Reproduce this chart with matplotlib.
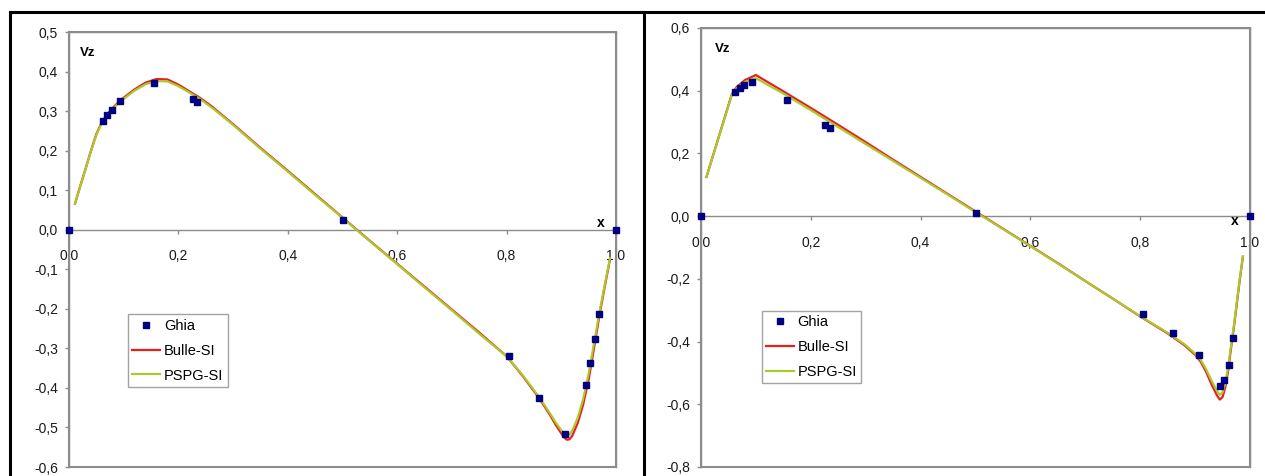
import matplotlib.pyplot as plt
from matplotlib.lines import Line2D
from matplotlib.patches import Rectangle
from matplotlib.ticker import FuncFormatter, MultipleLocator

plt.rcParams["font.family"] = ["Liberation Sans", "DejaVu Sans"]

# Ghia et al. reference points, vertical velocity on the horizontal centreline
ghia_x = [0.0, 0.0625, 0.0703, 0.0781, 0.0938, 0.1563, 0.2266, 0.2344, 0.5,
          0.8047, 0.8594, 0.9063, 0.9453, 0.9531, 0.9609, 0.9688, 1.0]
ghia_left = [0.0, 0.27485, 0.29012, 0.30353, 0.32627, 0.37095, 0.33075, 0.32235,
             0.02526, -0.31966, -0.42665, -0.51550, -0.39188, -0.33714,
             -0.27669, -0.21388, 0.0]
ghia_right = [0.0, 0.39560, 0.40917, 0.41906, 0.42768, 0.37119, 0.29030, 0.28066,
              0.00999, -0.31184, -0.37401, -0.44307, -0.54053, -0.52357,
              -0.47425, -0.39017, 0.0]

# computed profiles, left case
left_x = [0.011, 0.02, 0.03, 0.04, 0.05, 0.06, 0.07, 0.08, 0.09, 0.10, 0.12,
          0.14, 0.16, 0.18, 0.20, 0.22, 0.24, 0.26, 0.28, 0.30, 0.35, 0.40,
          0.45, 0.50, 0.55, 0.60, 0.65, 0.70, 0.75, 0.80, 0.83, 0.86, 0.88,
          0.89, 0.90, 0.905, 0.91, 0.915, 0.92, 0.93, 0.94, 0.95, 0.96, 0.97,
          0.98, 0.989]
left_bulle = [0.066, 0.108, 0.153, 0.199, 0.242, 0.272, 0.292, 0.308, 0.322,
              0.334, 0.355, 0.372, 0.381, 0.380, 0.367, 0.350, 0.333, 0.313,
              0.290, 0.267, 0.207, 0.149, 0.090, 0.031, -0.028, -0.086, -0.144,
              -0.202, -0.260, -0.320, -0.371, -0.427, -0.470, -0.494, -0.515,
              -0.525, -0.531, -0.530, -0.521, -0.489, -0.442, -0.379, -0.298,
              -0.214, -0.140, -0.075]
left_pspg = [0.066, 0.107, 0.152, 0.198, 0.240, 0.270, 0.290, 0.305, 0.319,
             0.331, 0.352, 0.368, 0.376, 0.375, 0.363, 0.347, 0.330, 0.310,
             0.288, 0.265, 0.205, 0.147, 0.088, 0.030, -0.029, -0.087, -0.146,
             -0.204, -0.263, -0.320, -0.369, -0.424, -0.466, -0.488, -0.507,
             -0.516, -0.521, -0.518, -0.508, -0.476, -0.428, -0.364, -0.286,
             -0.207, -0.135, -0.072]

# computed profiles, right case
right_x = [0.010, 0.056, 0.065, 0.08, 0.10, 0.15, 0.20, 0.25, 0.30, 0.35,
           0.40, 0.45, 0.50, 0.55, 0.60, 0.65, 0.70, 0.75, 0.80, 0.85, 0.88,
           0.90, 0.91, 0.92, 0.93, 0.94, 0.945, 0.95, 0.955, 0.96, 0.965,
           0.97, 0.975, 0.98, 0.987]
right_bulle = [0.125, 0.388, 0.412, 0.434, 0.450, 0.398, 0.345, 0.291, 0.236,
               0.180, 0.125, 0.070, 0.015, -0.040, -0.095, -0.150, -0.207,
               -0.263, -0.320, -0.374, -0.411, -0.442, -0.464, -0.496, -0.537,
               -0.572, -0.585, -0.577, -0.546, -0.495, -0.427, -0.364, -0.293,
               -0.222, -0.130]
right_pspg = [0.125, 0.386, 0.408, 0.428, 0.440, 0.391, 0.338, 0.284, 0.230,
              0.176, 0.122, 0.068, 0.013, -0.041, -0.096, -0.151, -0.207,
              -0.263, -0.319, -0.372, -0.408, -0.438, -0.458, -0.488, -0.525,
              -0.558, -0.570, -0.562, -0.532, -0.483, -0.418, -0.357, -0.287,
              -0.218, -0.128]

GRID_GREY = "#8c8c8c"
NAVY = "#000080"
RED = "#e8201c"
YGREEN = "#a9c92e"


def comma(v, pos):
    return f"{v:.1f}".replace(".", ",")


def draw_panel(ax, ghia, x, bulle, pspg, ylim, ystep, leg_anchor, vz_pos, x_lab):
    ax.plot(x, bulle, color=RED, lw=1.6, label="Bulle-SI", zorder=3)
    ax.plot(x, pspg, color=YGREEN, lw=1.6, label="PSPG-SI", zorder=4)
    ax.plot(ghia_x, ghia, ls="none", marker="s", ms=5, color=NAVY,
            label="Ghia", zorder=5, clip_on=False)

    ax.set_xlim(0, 1)
    ax.set_ylim(*ylim)
    ax.xaxis.set_major_locator(MultipleLocator(0.2))
    ax.yaxis.set_major_locator(MultipleLocator(ystep))
    ax.xaxis.set_major_formatter(FuncFormatter(comma))
    ax.yaxis.set_major_formatter(FuncFormatter(comma))

    # x axis runs through zero, plot area keeps a grey border
    ax.spines["bottom"].set_position(("data", 0))
    for s in ax.spines.values():
        s.set_color(GRID_GREY)
        s.set_linewidth(1.0)
    ax.add_patch(Rectangle((0, 0), 1, 1, transform=ax.transAxes, fill=False,
                           edgecolor=GRID_GREY, lw=1.5, zorder=2, clip_on=False))
    ax.tick_params(axis="x", direction="out", length=3, pad=11, width=1,
                   color=GRID_GREY, labelsize=10, labelcolor="#1a1a1a")
    ax.tick_params(axis="y", direction="out", length=3, pad=5, width=1,
                   color=GRID_GREY, labelsize=10, labelcolor="#1a1a1a")

    ax.text(*vz_pos, "Vz", transform=ax.transAxes, fontsize=9.5,
            fontweight="bold", va="center")
    ax.text(*x_lab, "x", transform=ax.transData, fontsize=10,
            fontweight="bold", ha="center", va="center")

    handles, labels = ax.get_legend_handles_labels()
    order = [2, 0, 1]
    leg = ax.legend([handles[i] for i in order], [labels[i] for i in order],
                    loc="lower left", bbox_to_anchor=leg_anchor, fontsize=10.5,
                    frameon=True, fancybox=False, edgecolor=GRID_GREY,
                    handlelength=1.9, handletextpad=0.25, labelspacing=0.75,
                    borderpad=0.3, borderaxespad=0)
    leg.get_frame().set_linewidth(1.0)


fig = plt.figure(figsize=(12.65, 4.76), dpi=100)
ax_l = fig.add_axes([69 / 1265, 9 / 476, 547 / 1265, 435 / 476])
ax_r = fig.add_axes([701 / 1265, 9 / 476, 549 / 1265, 439 / 476])

draw_panel(ax_l, ghia_left, left_x, left_bulle, left_pspg, (-0.6, 0.5), 0.1,
           (0.108, 0.184), (0.02, 0.952), (0.973, 0.017))
draw_panel(ax_r, ghia_right, right_x, right_bulle, right_pspg, (-0.8, 0.6), 0.2,
           (0.111, 0.191), (0.025, 0.952), (0.973, -0.017))

# table frame around the two panels
frame = dict(color="black", lw=2.2, transform=fig.transFigure)
top = 1 - 12 / 476
fig.add_artist(Line2D([10 / 1265, 1.0], [top, top], **frame))
fig.add_artist(Line2D([10 / 1265, 10 / 1265], [0, top], **frame))
fig.add_artist(Line2D([644 / 1265, 644 / 1265], [0, top], **frame))

fig.savefig("out.png", dpi=100, facecolor="white")
